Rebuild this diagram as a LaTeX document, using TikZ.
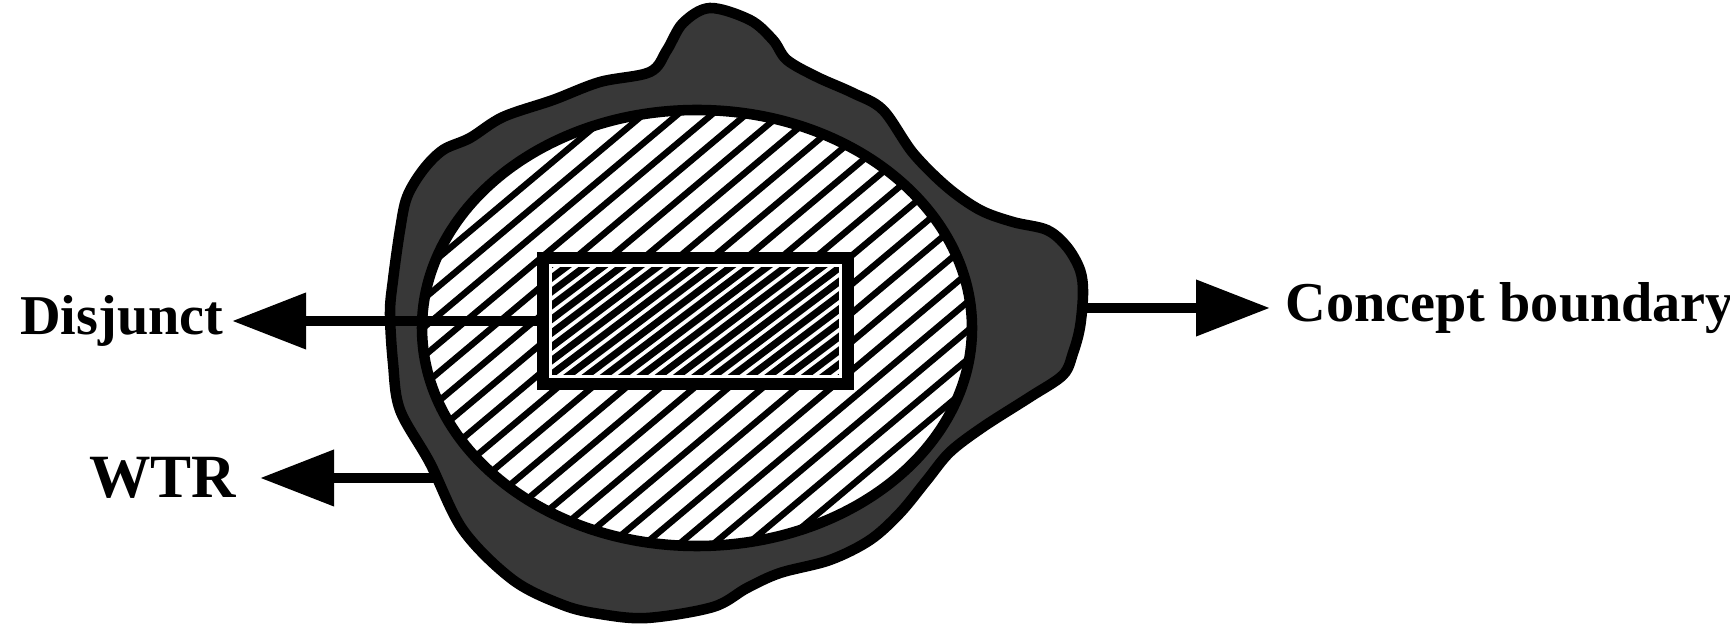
\documentclass[tikz,border=0pt]{standalone}
\usepackage{fontspec}
\setmainfont{Liberation Serif}
\usetikzlibrary{positioning, arrows.meta}
\definecolor{bandFill}{HTML}{383838}

\begin{document}
\begin{tikzpicture}[lbl/.style={font=\bfseries\fontsize{16}{19}\selectfont, inner sep=0pt},ptr/.style={line width=3pt, -{Triangle[length=7.4mm, width=5.4mm]}},hatch/.style={line width=1.8pt},fine/.style={line width=2pt}]
\useasboundingbox (0,0) rectangle (17.3,6.24);
% concept boundary (outer blob)
\draw[line width=3pt, fill=bandFill] plot[smooth cycle, tension=0.55] coordinates {(7.10,6.16) (7.50,6.04) (7.73,5.84) (7.87,5.64) (8.17,5.47) (8.53,5.31) (8.83,5.14) (9.13,4.71) (9.47,4.37) (9.80,4.14) (10.13,4.02) (10.47,3.94) (10.67,3.77) (10.80,3.54) (10.83,3.31) (10.80,2.97) (10.73,2.71) (10.63,2.49) (10.30,2.27) (9.83,1.97) (9.50,1.72) (9.27,1.44) (9.00,1.11) (8.70,0.84) (8.30,0.64) (7.80,0.51) (7.47,0.36) (7.13,0.17) (6.47,0.06) (6.00,0.10) (5.63,0.19) (5.13,0.44) (4.63,0.94) (4.30,1.61) (4.00,2.14) (3.93,2.61) (3.90,3.11) (3.93,3.44) (4.00,3.94) (4.07,4.27) (4.23,4.54) (4.43,4.74) (4.70,4.86) (5.03,5.07) (5.53,5.24) (6.00,5.42) (6.50,5.52) (6.67,5.74) (6.83,6.01)};
% WTR region
\coordinate (ctr) at (6.97,2.96);
\fill[white] (ctr) ellipse [x radius=2.75, y radius=2.18];
\begin{scope}
\clip (ctr) ellipse [x radius=2.75, y radius=2.18];
\foreach \k in {-15,...,15} \draw[hatch, shift={(ctr)}, rotate=40] (-4,\k*0.22) -- (4,\k*0.22);
\end{scope}
\draw[line width=3pt] (ctr) ellipse [x radius=2.75, y radius=2.18];
% disjunct
\node[draw, fill=white, line width=3.4pt, minimum width=3.05cm, minimum height=1.26cm] (box) at (6.955,3.03) {};
\begin{scope}
\clip ([shift={(0.15,0.15)}]box.south west) rectangle ([shift={(-0.15,-0.15)}]box.north east);
\foreach \k in {-18,...,18} \draw[fine, shift={(box.center)}, rotate=37] (-3,\k*0.11) -- (3,\k*0.11);
\end{scope}
% labels
\coordinate (wtrEnd) at (4.36,1.46);
\coordinate (cbStart) at (10.87,3.16);
\node[lbl, left=3.13cm of box.west] (disj) {Disjunct};
\node[lbl, font=\bfseries\fontsize{17.5}{20}\selectfont, left=1.99cm of wtrEnd] (wtr) {WTR};
\node[lbl, right=1.98cm of cbStart] (cb) {Concept boundary};
\draw[ptr, shorten >=0.08cm] (box.west) -- (disj.east);
\draw[ptr, shorten >=0.23cm] (wtrEnd) -- (wtr.east);
\draw[ptr, shorten >=0.15cm] (cbStart) -- (cb.west);
\end{tikzpicture}
\end{document}
